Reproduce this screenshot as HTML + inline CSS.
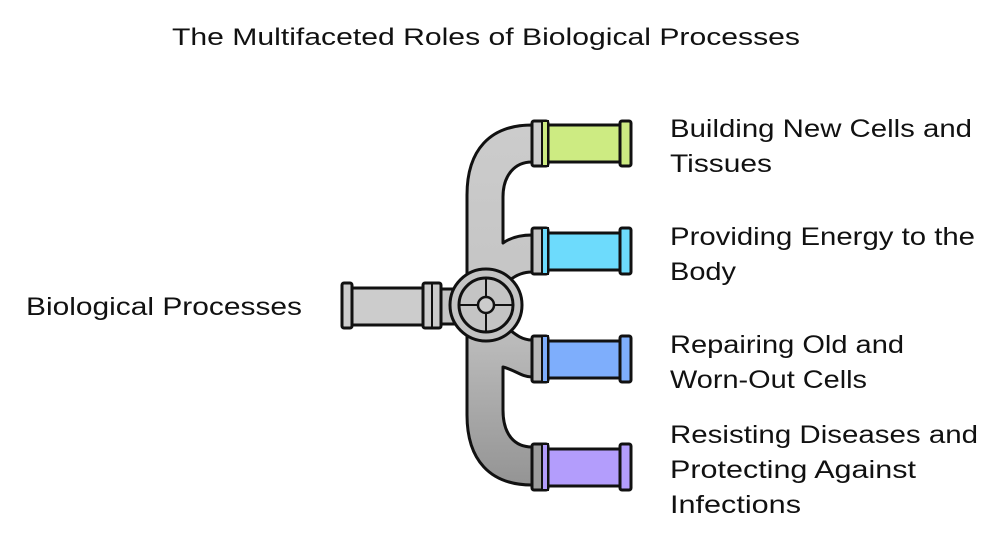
<!DOCTYPE html>
<html><head><meta charset="utf-8"><style>
html,body{margin:0;padding:0;background:#fff;}
svg{display:block;}
text{font-family:"Liberation Sans",sans-serif;fill:#111;}
</style></head><body>
<svg width="1008" height="540" viewBox="0 0 1008 540" xmlns="http://www.w3.org/2000/svg">
<defs>
<linearGradient id="mg" x1="0" y1="125" x2="0" y2="485" gradientUnits="userSpaceOnUse">
<stop offset="0" stop-color="#cccccc"/><stop offset="0.5" stop-color="#c4c4c4"/><stop offset="1" stop-color="#949494"/>
</linearGradient>
</defs>
<text x="486" y="45" font-size="24" text-anchor="middle" textLength="628" lengthAdjust="spacingAndGlyphs">The Multifaceted Roles of Biological Processes</text>

<path d="M532,125 C490,125 467,150 467,195 L467,415 C467,460 490,485 532,485 L532,447 C515,447 503,435 503,410 L503,367 C515,370 522,377 532,377 L532,340 C522,340 515,334 510,330 L510,280 C515,276 522,272 532,272 L532,235 C520,235 510,238 503,243 L503,197 C503,175 515,162 532,162 Z" fill="url(#mg)" stroke="#111" stroke-width="3" stroke-linejoin="round"/>

<rect x="438" y="289" width="26" height="35" fill="#c4c4c4" stroke="#111" stroke-width="3"/>
<rect x="350" y="288" width="75" height="37" fill="#cccccc" stroke="#111" stroke-width="3"/>
<rect x="342" y="283" width="10" height="45" rx="2" fill="#cccccc" stroke="#111" stroke-width="3"/>
<rect x="423" y="283" width="18" height="45" rx="2" fill="#cccccc" stroke="#111" stroke-width="3"/>
<line x1="432" y1="283" x2="432" y2="328" stroke="#111" stroke-width="2"/>

<circle cx="486" cy="305" r="36" fill="#c4c4c4" stroke="#111" stroke-width="3"/>
<circle cx="486" cy="305" r="27" fill="#c4c4c4" stroke="#111" stroke-width="3"/>
<line x1="459" y1="305" x2="513" y2="305" stroke="#111" stroke-width="2"/>
<line x1="486" y1="278" x2="486" y2="332" stroke="#111" stroke-width="2"/>
<circle cx="486" cy="305" r="8" fill="#cccccc" stroke="#111" stroke-width="2.5"/>

<g stroke="#111" stroke-width="3">
<rect x="546" y="125" width="76" height="37" fill="#cdeb82"/>
<rect x="532" y="121" width="16" height="45" rx="2" fill="#cccccc"/>
<rect x="542" y="121" width="6" height="45" fill="#cdeb82" stroke-width="2"/>
<rect x="620" y="121" width="11" height="45" rx="2" fill="#cdeb82"/>

<rect x="546" y="233" width="76" height="37" fill="#6ddbfc"/>
<rect x="532" y="228" width="16" height="46" rx="2" fill="#c4c4c4"/>
<rect x="542" y="228" width="6" height="46" fill="#6ddbfc" stroke-width="2"/>
<rect x="620" y="228" width="11" height="46" rx="2" fill="#6ddbfc"/>

<rect x="546" y="341" width="76" height="37" fill="#7eaefc"/>
<rect x="532" y="336" width="16" height="46" rx="2" fill="#b8b8b8"/>
<rect x="542" y="336" width="6" height="46" fill="#7eaefc" stroke-width="2"/>
<rect x="620" y="336" width="11" height="46" rx="2" fill="#7eaefc"/>

<rect x="546" y="449" width="76" height="37" fill="#b39dfc"/>
<rect x="532" y="444" width="16" height="46" rx="2" fill="#9c9c9c"/>
<rect x="542" y="444" width="6" height="46" fill="#b39dfc" stroke-width="2"/>
<rect x="620" y="444" width="11" height="46" rx="2" fill="#b39dfc"/>
</g>

<text x="26" y="315" font-size="25" textLength="276" lengthAdjust="spacingAndGlyphs">Biological Processes</text>
<g font-size="25">
<text x="670" y="137" textLength="302" lengthAdjust="spacingAndGlyphs">Building New Cells and</text>
<text x="670" y="172" textLength="102" lengthAdjust="spacingAndGlyphs">Tissues</text>
<text x="670" y="245" textLength="305" lengthAdjust="spacingAndGlyphs">Providing Energy to the</text>
<text x="670" y="280" textLength="66" lengthAdjust="spacingAndGlyphs">Body</text>
<text x="670" y="353" textLength="234" lengthAdjust="spacingAndGlyphs">Repairing Old and</text>
<text x="670" y="388" textLength="197" lengthAdjust="spacingAndGlyphs">Worn-Out Cells</text>
<text x="670" y="443" textLength="308" lengthAdjust="spacingAndGlyphs">Resisting Diseases and</text>
<text x="670" y="478" textLength="246" lengthAdjust="spacingAndGlyphs">Protecting Against</text>
<text x="670" y="513" textLength="131" lengthAdjust="spacingAndGlyphs">Infections</text>
</g>
</svg>
</body></html>
